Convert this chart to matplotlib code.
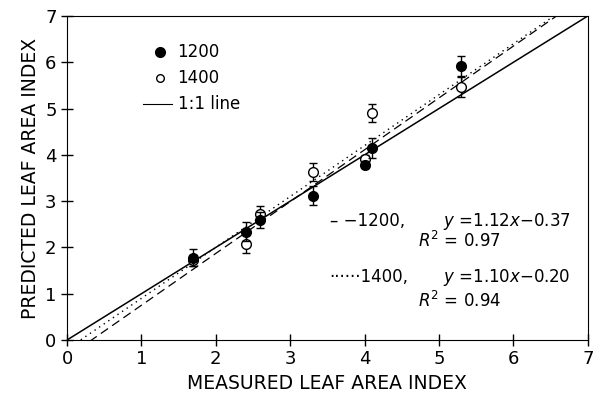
import numpy as np
import matplotlib
matplotlib.use("Agg")
import matplotlib.pyplot as plt

plt.rcParams['font.family'] = ['DejaVu Sans']
plt.rcParams['mathtext.fontset'] = 'dejavusans'

# measured vs predicted LAI
x_1200 = [1.7, 2.4, 2.6, 3.3, 4.0, 4.1, 5.3]
y_1200 = [1.78, 2.34, 2.59, 3.12, 3.79, 4.15, 5.92]
err_1200 = [0.18, 0.2, 0.18, 0.2, 0.08, 0.22, 0.22]

x_1400 = [1.7, 2.4, 2.6, 3.3, 4.0, 4.1, 5.3]
y_1400 = [1.72, 2.07, 2.72, 3.63, 3.9, 4.9, 5.46]
err_1400 = [0.12, 0.2, 0.18, 0.2, 0.1, 0.2, 0.22]

slope_1200, icpt_1200 = 1.12, -0.37
slope_1400, icpt_1400 = 1.10, -0.20

fig = plt.figure(figsize=(6.01, 4.0), dpi=100)
ax = fig.add_axes([0.1115, 0.15, 0.8665, 0.81])

xx = np.linspace(0, 7, 200)
ax.plot(xx, xx, color='black', lw=1.1)
ax.plot(xx, slope_1200 * xx + icpt_1200, color='black', lw=0.9, ls=(0, (7, 4)))
ax.plot(xx, slope_1400 * xx + icpt_1400, color='black', lw=1.0, ls=(0, (1, 3)))

ax.errorbar(x_1200, y_1200, yerr=err_1200, fmt='o', color='black', mfc='black',
            ms=7, capsize=3, elinewidth=1, zorder=4)
ax.errorbar(x_1400, y_1400, yerr=err_1400, fmt='o', color='black', mfc='white',
            ms=7, capsize=3, elinewidth=1, zorder=3)

# legend drawn by hand, like the original
ax.plot([1.25], [6.22], 'o', color='black', ms=7)
ax.text(1.48, 6.22, '1200', fontsize=12, va='center')
ax.plot([1.25], [5.66], 'o', color='black', mfc='white', ms=5.5)
ax.text(1.48, 5.66, '1400', fontsize=12, va='center')
ax.plot([1.02, 1.41], [5.1, 5.1], color='black', lw=0.8)
ax.text(1.49, 5.1, '1:1 line', fontsize=12, va='center')

ax.text(3.53, 2.57, '– −1200,', fontsize=12, va='center')
ax.text(5.05, 2.57, r'$\mathit{y}$ =1.12$\mathit{x}$−0.37', fontsize=12, va='center')
ax.text(4.72, 2.15, r'$R^2$ = 0.97', fontsize=12, va='center')
ax.text(3.53, 1.36, '······1400,', fontsize=12, va='center')
ax.text(5.05, 1.36, r'$\mathit{y}$ =1.10$\mathit{x}$−0.20', fontsize=12, va='center')
ax.text(4.72, 0.85, r'$R^2$ = 0.94', fontsize=12, va='center')

ax.set_xlim(0, 7)
ax.set_ylim(0, 7)
ax.set_xticks(range(8))
ax.set_yticks(range(8))
ax.tick_params(direction='inout', length=8, labelsize=13, width=1)
ax.set_xlabel('MEASURED LEAF AREA INDEX', fontsize=13.5)
ax.set_ylabel('PREDICTED LEAF AREA INDEX', fontsize=13.5)

fig.savefig('out.png', dpi=100)
